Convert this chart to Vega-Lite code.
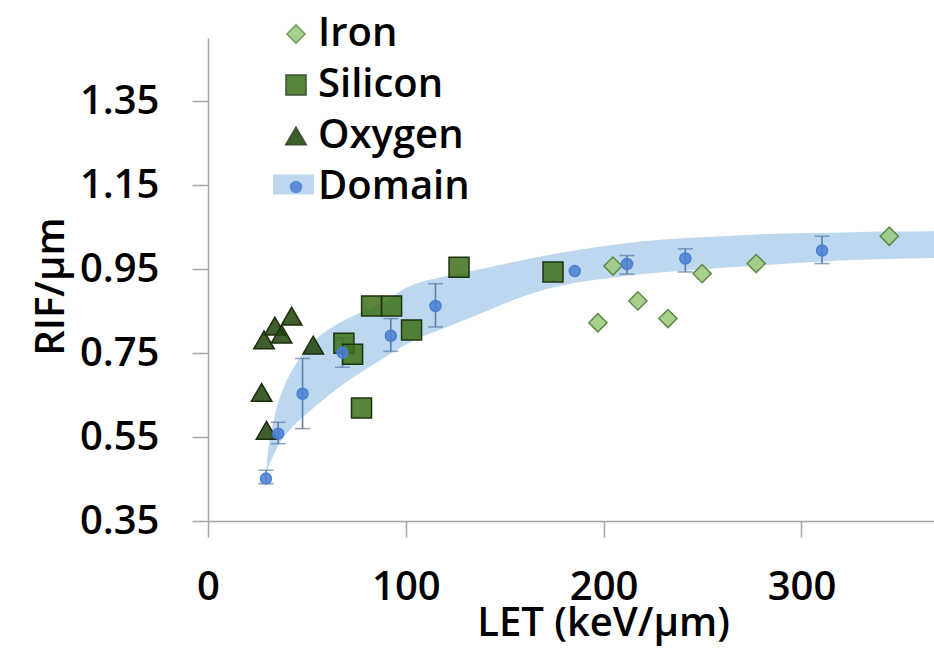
{
  "$schema": "https://vega.github.io/schema/vega-lite/v6.json",
  "width": 726,
  "height": 483,
  "autosize": {"type": "none"},
  "padding": {"left": 208, "top": 38, "right": 0, "bottom": 139},
  "background": "white",
  "config": {
    "font": "Open Sans",
    "view": {"stroke": null},
    "axis": {
      "grid": false,
      "domainColor": "#a6a6a6",
      "domainWidth": 1.5,
      "tickColor": "#a6a6a6",
      "tickWidth": 1.5,
      "tickSize": 16,
      "labelFlush": false,
      "labelFont": "Open Sans",
      "labelFontSize": 40,
      "labelFontWeight": 600,
      "labelColor": "#000000",
      "titleFont": "Open Sans",
      "titleFontSize": 40,
      "titleFontWeight": 600,
      "titleColor": "#000000"
    },
    "legend": {
      "labelFont": "Open Sans",
      "labelFontSize": 40,
      "labelFontWeight": 600,
      "labelColor": "#000000",
      "padding": 0
    }
  },
  "datasets": {
    "band": [
      {"let": 29.3, "lo": 0.46, "hi": 0.46, "band": "Domain"},
      {"let": 30, "lo": 0.47, "hi": 0.5, "band": "Domain"},
      {"let": 31, "lo": 0.485, "hi": 0.54, "band": "Domain"},
      {"let": 33, "lo": 0.505, "hi": 0.585, "band": "Domain"},
      {"let": 35, "lo": 0.525, "hi": 0.625, "band": "Domain"},
      {"let": 38, "lo": 0.548, "hi": 0.665, "band": "Domain"},
      {"let": 41.5, "lo": 0.567, "hi": 0.7, "band": "Domain"},
      {"let": 45, "lo": 0.585, "hi": 0.728, "band": "Domain"},
      {"let": 50, "lo": 0.606, "hi": 0.76, "band": "Domain"},
      {"let": 55, "lo": 0.626, "hi": 0.785, "band": "Domain"},
      {"let": 60, "lo": 0.645, "hi": 0.803, "band": "Domain"},
      {"let": 70, "lo": 0.681, "hi": 0.831, "band": "Domain"},
      {"let": 80, "lo": 0.712, "hi": 0.852, "band": "Domain"},
      {"let": 90, "lo": 0.741, "hi": 0.875, "band": "Domain"},
      {"let": 100, "lo": 0.77, "hi": 0.905, "band": "Domain"},
      {"let": 110, "lo": 0.792, "hi": 0.922, "band": "Domain"},
      {"let": 120, "lo": 0.81, "hi": 0.933, "band": "Domain"},
      {"let": 140, "lo": 0.848, "hi": 0.952, "band": "Domain"},
      {"let": 160, "lo": 0.886, "hi": 0.972, "band": "Domain"},
      {"let": 180, "lo": 0.912, "hi": 0.99, "band": "Domain"},
      {"let": 200, "lo": 0.927, "hi": 1.004, "band": "Domain"},
      {"let": 220, "lo": 0.938, "hi": 1.016, "band": "Domain"},
      {"let": 240, "lo": 0.946, "hi": 1.023, "band": "Domain"},
      {"let": 260, "lo": 0.953, "hi": 1.028, "band": "Domain"},
      {"let": 280, "lo": 0.959, "hi": 1.033, "band": "Domain"},
      {"let": 300, "lo": 0.965, "hi": 1.035, "band": "Domain"},
      {"let": 320, "lo": 0.97, "hi": 1.037, "band": "Domain"},
      {"let": 340, "lo": 0.973, "hi": 1.039, "band": "Domain"},
      {"let": 367, "lo": 0.976, "hi": 1.04, "band": "Domain"}
    ],
    "errors": [
      {"let": 29.3, "lo": 0.439, "hi": 0.471},
      {"let": 35.5, "lo": 0.534, "hi": 0.585},
      {"let": 47.8, "lo": 0.57, "hi": 0.737},
      {"let": 68.0, "lo": 0.716, "hi": 0.786},
      {"let": 92.4, "lo": 0.754, "hi": 0.832},
      {"let": 115.0, "lo": 0.812, "hi": 0.915},
      {"let": 211.8, "lo": 0.938, "hi": 0.982},
      {"let": 241.3, "lo": 0.943, "hi": 0.998},
      {"let": 310.4, "lo": 0.963, "hi": 1.028}
    ],
    "points": [
      {"series": "Iron", "let": 197.1, "rif": 0.822},
      {"series": "Iron", "let": 204.7, "rif": 0.957},
      {"series": "Iron", "let": 217.3, "rif": 0.874},
      {"series": "Iron", "let": 232.5, "rif": 0.832},
      {"series": "Iron", "let": 249.8, "rif": 0.939},
      {"series": "Iron", "let": 277.1, "rif": 0.963},
      {"series": "Iron", "let": 344.4, "rif": 1.028},
      {"series": "Silicon", "let": 68.7, "rif": 0.773},
      {"series": "Silicon", "let": 73.1, "rif": 0.747},
      {"series": "Silicon", "let": 82.7, "rif": 0.862},
      {"series": "Silicon", "let": 92.8, "rif": 0.862},
      {"series": "Silicon", "let": 102.9, "rif": 0.805},
      {"series": "Silicon", "let": 126.9, "rif": 0.954},
      {"series": "Silicon", "let": 77.6, "rif": 0.619},
      {"series": "Silicon", "let": 174.4, "rif": 0.943},
      {"series": "Oxygen", "let": 28.3, "rif": 0.781},
      {"series": "Oxygen", "let": 33.8, "rif": 0.814},
      {"series": "Oxygen", "let": 37.2, "rif": 0.795},
      {"series": "Oxygen", "let": 42.3, "rif": 0.838},
      {"series": "Oxygen", "let": 53.2, "rif": 0.769},
      {"series": "Oxygen", "let": 27.1, "rif": 0.656},
      {"series": "Oxygen", "let": 29.6, "rif": 0.566},
      {"series": "Domain", "let": 29.3, "rif": 0.451},
      {"series": "Domain", "let": 35.5, "rif": 0.558},
      {"series": "Domain", "let": 47.8, "rif": 0.653},
      {"series": "Domain", "let": 68.0, "rif": 0.751},
      {"series": "Domain", "let": 92.4, "rif": 0.791},
      {"series": "Domain", "let": 115.0, "rif": 0.862},
      {"series": "Domain", "let": 185.4, "rif": 0.945},
      {"series": "Domain", "let": 211.8, "rif": 0.962},
      {"series": "Domain", "let": 241.3, "rif": 0.975},
      {"series": "Domain", "let": 310.4, "rif": 0.994}
    ]
  },
  "encoding": {
    "x": {
      "field": "let",
      "type": "quantitative",
      "scale": {"domain": [0, 367], "nice": false, "zero": false},
      "axis": {
        "values": [0, 100, 200, 300],
        "labelPadding": 30,
        "title": "LET (keV/μm)",
        "titleX": 395,
        "titleY": 114,
        "titleAlign": "center",
        "titleAnchor": null,
        "titleBaseline": "alphabetic"
      }
    }
  },
  "layer": [
    {
      "data": {"name": "band"},
      "mark": {"type": "area", "color": "#bdd7ee", "interpolate": "monotone", "clip": true},
      "encoding": {
        "y": {
          "field": "lo",
          "type": "quantitative",
          "title": "RIF/μm",
          "scale": {"domain": [0.35, 1.5], "nice": false, "zero": false},
          "axis": {
            "values": [0.35, 0.55, 0.75, 0.95, 1.15, 1.35],
            "format": ".2f",
            "labelPadding": 33,
            "title": "RIF/μm",
            "titleX": -145,
            "titleY": 248,
            "titleAlign": "center",
            "titleAnchor": null,
            "titleBaseline": "alphabetic",
            "titleAngle": -90
          }
        },
        "y2": {"field": "hi"},
        "opacity": {
          "field": "band",
          "type": "nominal",
          "scale": {"type": "ordinal", "domain": ["Domain"], "range": [1]},
          "legend": {
            "title": null,
            "orient": "none",
            "legendX": 65,
            "legendY": 126,
            "symbolType": "M-1,-0.49L1,-0.49L1,0.49L-1,0.49Z",
            "symbolSize": 1681,
            "symbolFillColor": "#bdd7ee",
            "symbolStrokeWidth": 0,
            "labelExpr": "''",
            "labelFontSize": 1,
            "zindex": 0
          }
        }
      }
    },
    {
      "data": {"name": "errors"},
      "mark": {"type": "errorbar", "color": "#5b7fa8", "thickness": 1.6, "ticks": {"size": 15, "color": "#5b7fa8"}},
      "encoding": {
        "y": {"field": "lo", "type": "quantitative", "title": "RIF/μm"},
        "y2": {"field": "hi"}
      }
    },
    {
      "data": {"name": "points"},
      "mark": {"type": "point", "filled": true, "fillOpacity": 0.85, "strokeOpacity": 1, "strokeWidth": 1.5},
      "encoding": {
        "y": {"field": "rif", "type": "quantitative", "title": "RIF/μm"},
        "shape": {
          "field": "series",
          "type": "nominal",
          "scale": {"domain": ["Iron", "Silicon", "Oxygen", "Domain"], "range": ["diamond", "square", "triangle-up", "circle"]},
          "legend": {"title": null, "orient": "none", "legendX": 68, "legendY": -24, "rowPadding": 11, "labelOffset": 2, "symbolStrokeWidth": 1.5, "symbolOpacity": 0.85, "zindex": 1}
        },
        "fill": {
          "field": "series",
          "type": "nominal",
          "scale": {"domain": ["Iron", "Silicon", "Oxygen", "Domain"], "range": ["#9ac97a", "#3d7018", "#1e4208", "#4a7fd4"]},
          "legend": {"title": null, "orient": "none", "legendX": 68, "legendY": -24, "rowPadding": 11, "labelOffset": 2, "symbolStrokeWidth": 1.5, "symbolOpacity": 0.85, "zindex": 1}
        },
        "stroke": {
          "field": "series",
          "type": "nominal",
          "scale": {"domain": ["Iron", "Silicon", "Oxygen", "Domain"], "range": ["#5e8a48", "#1e3312", "#1a2b0e", "#4a7fd4"]},
          "legend": {"title": null, "orient": "none", "legendX": 68, "legendY": -24, "rowPadding": 11, "labelOffset": 2, "symbolStrokeWidth": 1.5, "symbolOpacity": 0.85, "zindex": 1}
        },
        "size": {
          "field": "series",
          "type": "nominal",
          "scale": {"type": "ordinal", "domain": ["Iron", "Silicon", "Oxygen", "Domain"], "range": [330, 400, 420, 121]},
          "legend": {"title": null, "orient": "none", "legendX": 68, "legendY": -24, "rowPadding": 11, "labelOffset": 2, "symbolStrokeWidth": 1.5, "symbolOpacity": 0.85, "zindex": 1}
        }
      }
    }
  ],
  "resolve": {"scale": {"y": "shared"}}
}
